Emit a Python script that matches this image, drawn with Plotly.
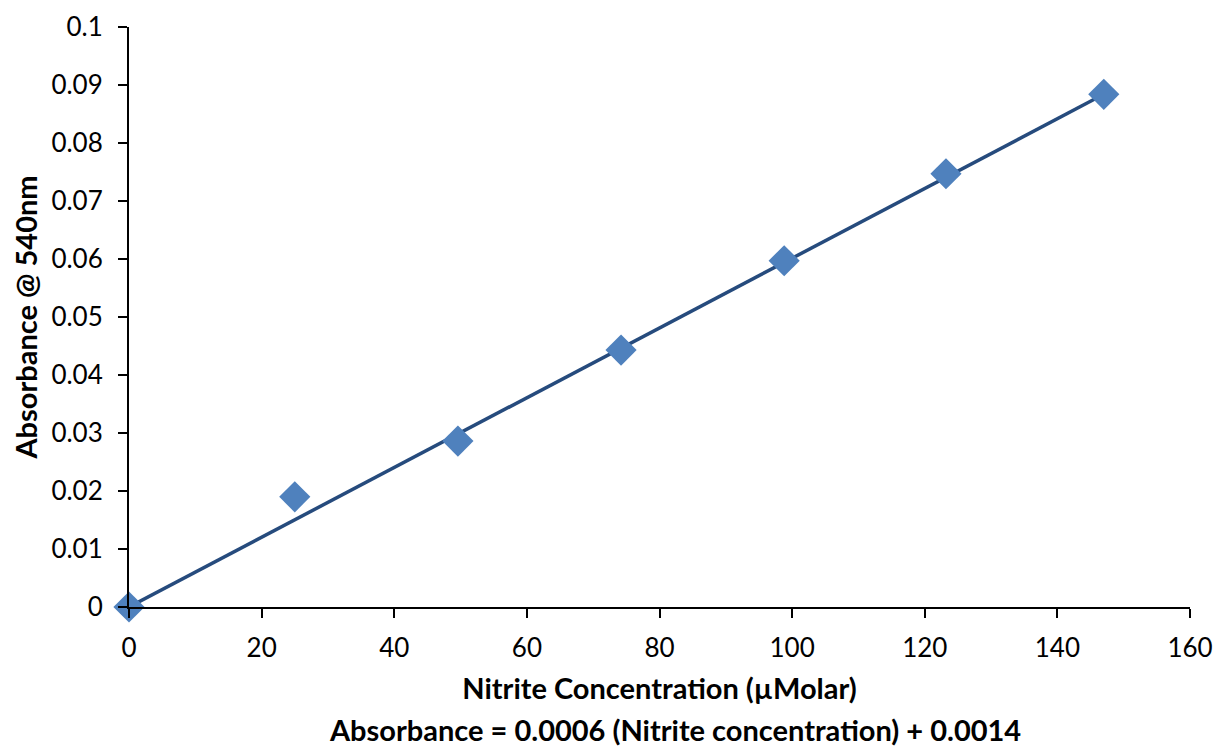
import plotly.graph_objects as go

concentration = [0, 25.0, 49.6, 74.2, 98.8, 123.2, 147.0]
absorbance = [0.0, 0.0190, 0.0286, 0.0443, 0.0597, 0.0747, 0.0884]

trend_x = [0, 147.0]
trend_y = [0.0, 0.0884]

x_ticks = [0, 20, 40, 60, 80, 100, 120, 140, 160]
y_ticks = [0, 0.01, 0.02, 0.03, 0.04, 0.05, 0.06, 0.07, 0.08, 0.09, 0.1]
y_labels = ["0", "0.01", "0.02", "0.03", "0.04", "0.05", "0.06", "0.07", "0.08", "0.09", "0.1"]

font_family = "Lato, 'Open Sans', sans-serif"

fig = go.Figure()
fig.add_trace(go.Scatter(
    x=trend_x, y=trend_y, mode="lines",
    line=dict(color="#264B7D", width=3.5),
    showlegend=False, hoverinfo="skip", cliponaxis=False,
))
fig.add_trace(go.Scatter(
    x=concentration, y=absorbance, mode="markers",
    marker=dict(symbol="diamond", size=24, color="#4F81BD"),
    showlegend=False, cliponaxis=False,
))

fig.update_layout(
    width=1214, height=741,
    margin=dict(l=121, r=32, t=19, b=142),
    paper_bgcolor="white", plot_bgcolor="white",
    font=dict(family=font_family, color="black"),
    xaxis=dict(
        range=[0, 160], tickvals=x_ticks, ticks="outside", ticklen=9,
        tickcolor="black", tickwidth=2, automargin=False,
        ticklabelstandoff=8,
        showline=True, linecolor="black", linewidth=2,
        showgrid=False, zeroline=False,
        tickfont=dict(size=26, family=font_family),
        title=dict(text="<b>Nitrite Concentration (µMolar)</b>",
                   font=dict(size=29, family=font_family), standoff=16),
    ),
    yaxis=dict(
        range=[0, 0.1], tickvals=y_ticks, ticktext=y_labels, ticks="outside", ticklen=9,
        tickcolor="black", tickwidth=2, automargin=False,
        ticklabelstandoff=10,
        showline=True, linecolor="black", linewidth=2,
        showgrid=False, zeroline=False,
        tickfont=dict(size=26, family=font_family),
        title=dict(text="<b>Absorbance @ 540nm</b>",
                   font=dict(size=29, family=font_family), standoff=14),
    ),
    annotations=[dict(
        text="<b>Absorbance = 0.0006 (Nitrite concentration) + 0.0014</b>",
        x=0.515, xref="paper", y=-0.212, yref="paper", yanchor="middle",
        showarrow=False, font=dict(size=29, family=font_family, color="black"),
    )],
)

fig.write_html("out.html")
